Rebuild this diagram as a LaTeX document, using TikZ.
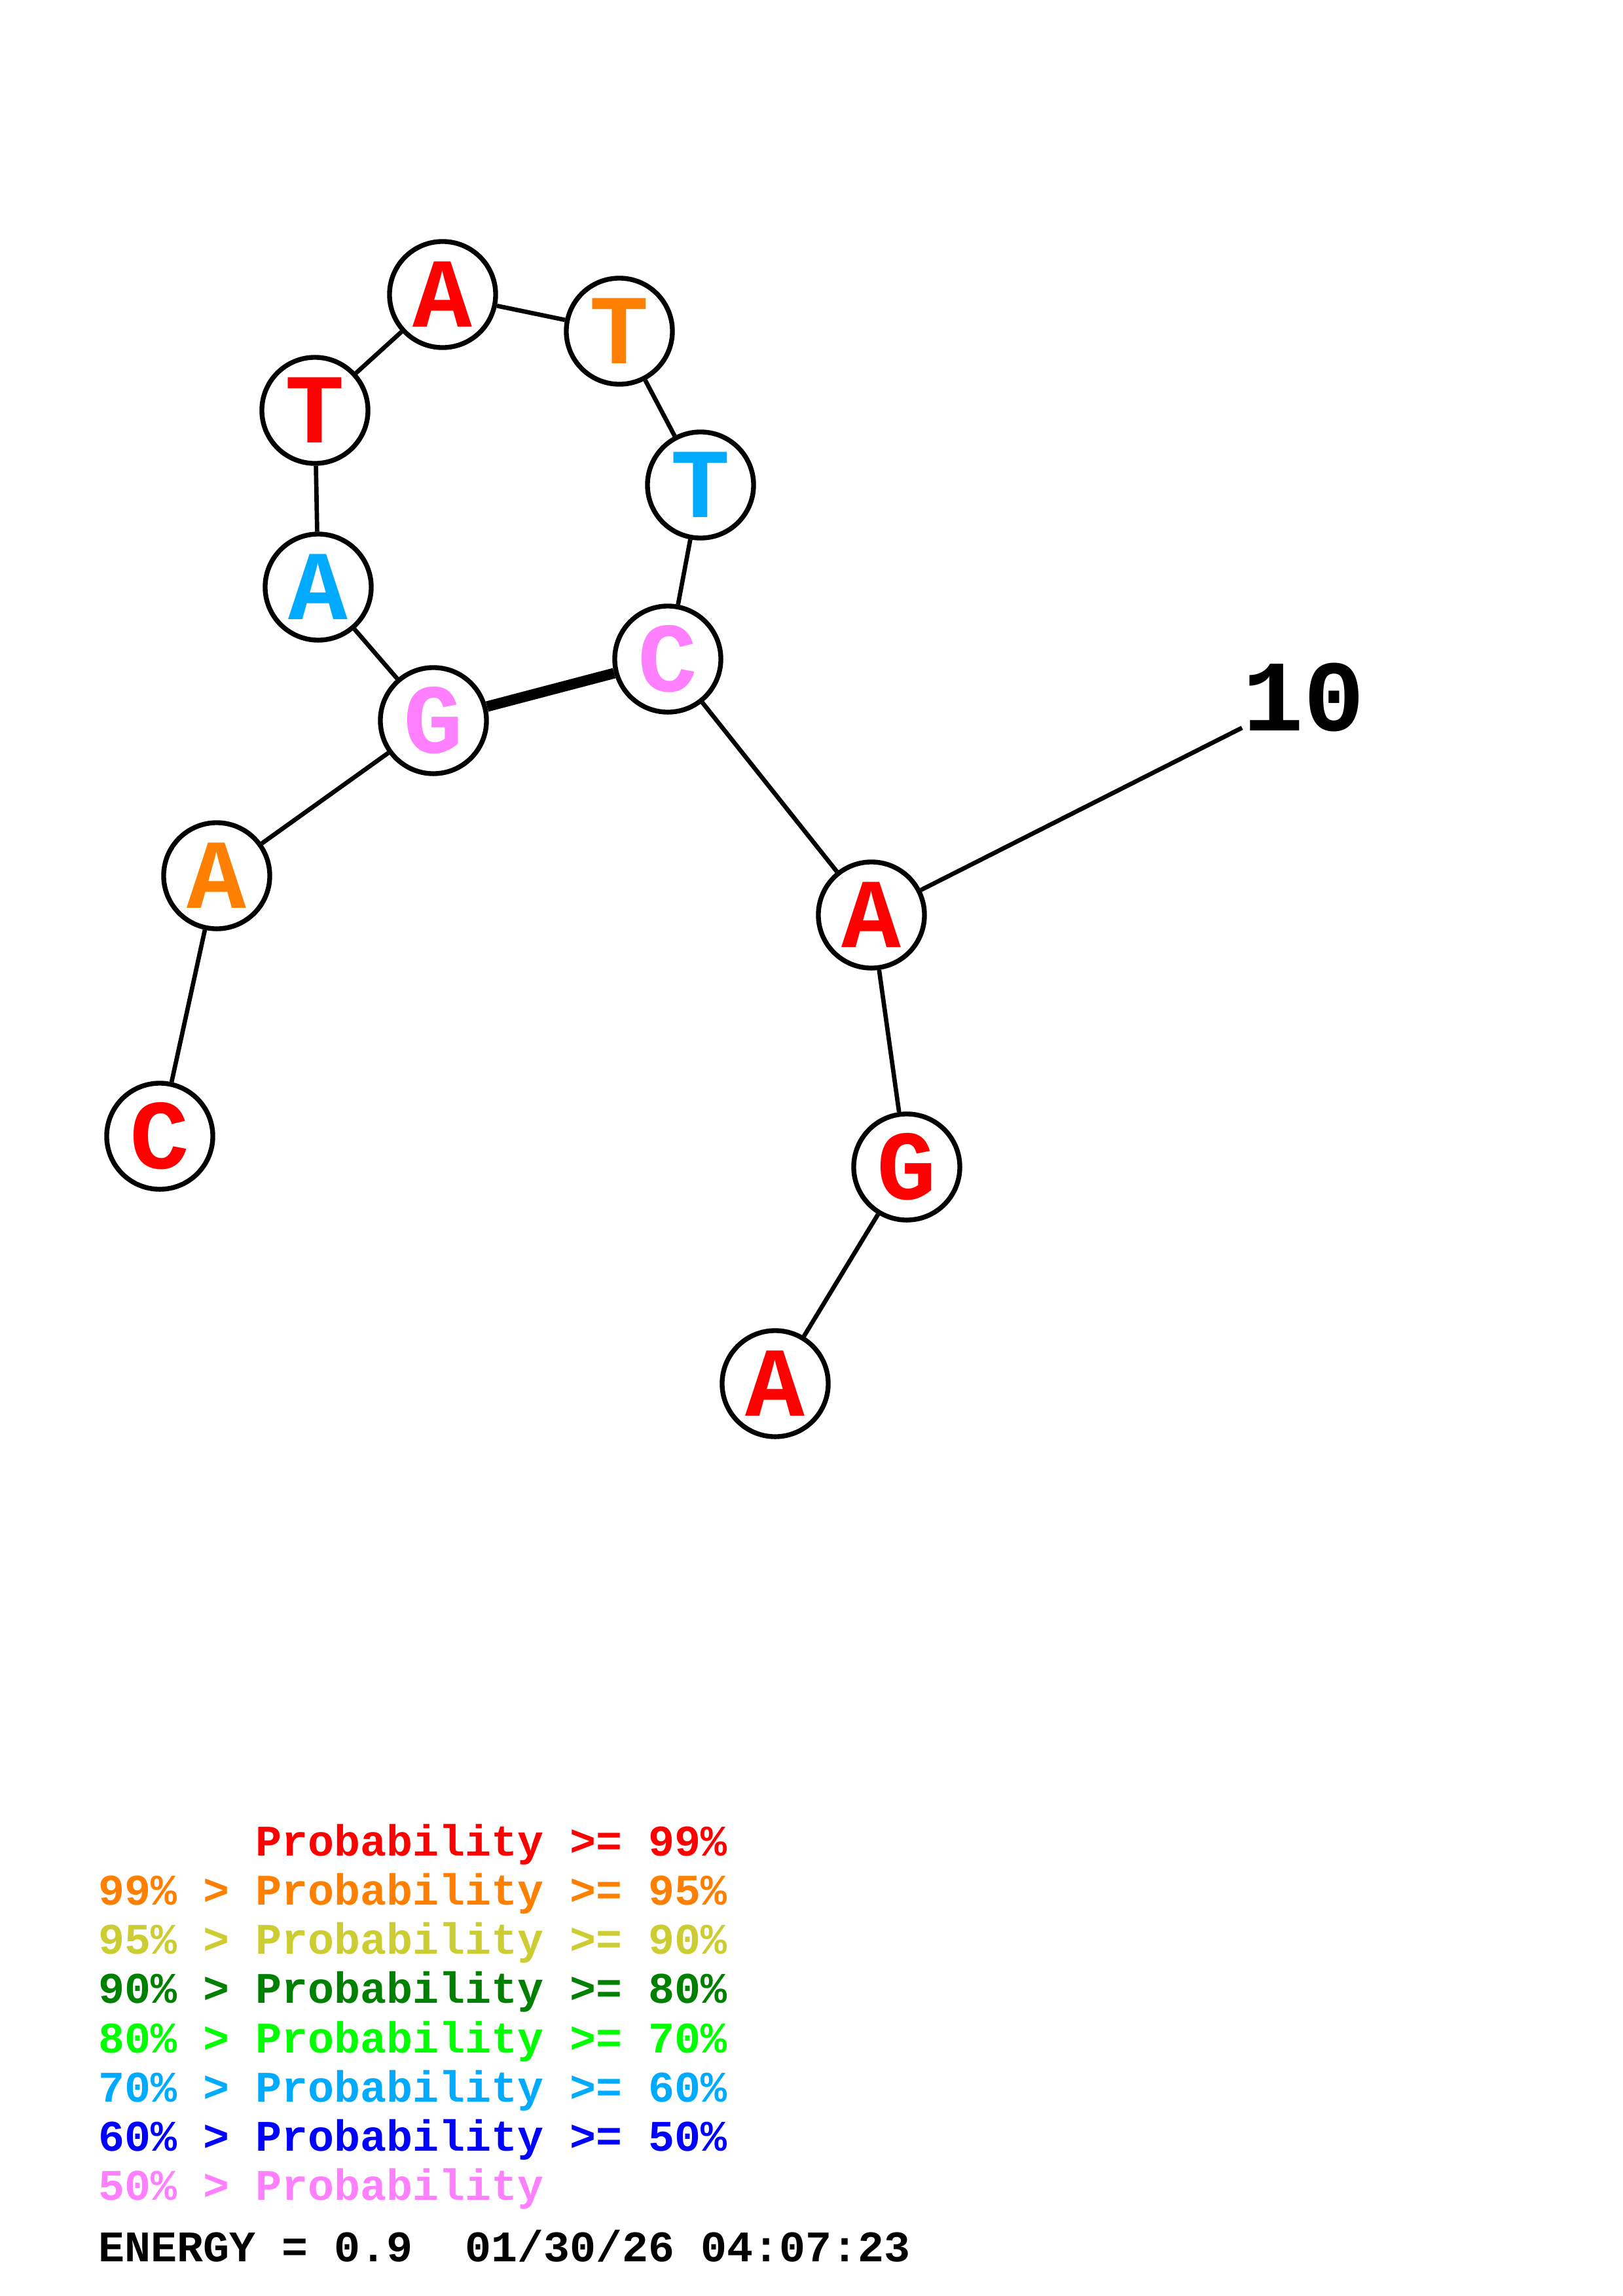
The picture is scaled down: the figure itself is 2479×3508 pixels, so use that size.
\documentclass[tikz,border=0pt]{standalone}
\usepackage{fontspec}
\setmonofont{Liberation Mono}
\definecolor{cred}{RGB}{255,0,0}
\definecolor{corange}{RGB}{255,128,0}
\definecolor{cyellow}{RGB}{204,204,51}
\definecolor{cdgreen}{RGB}{0,128,0}
\definecolor{cgreen}{RGB}{0,255,0}
\definecolor{clblue}{RGB}{0,170,255}
\definecolor{cblue}{RGB}{0,0,255}
\definecolor{cpink}{RGB}{255,128,255}
\newcommand\ntx[1]{\raisebox{-3.5pt}{#1}}
\begin{document}
\begin{tikzpicture}[x=0.01cm,y=-0.01cm,
  nt/.style={circle, draw=black, line width=2.1pt, fill=white, minimum size=1.62cm, inner sep=0pt,
    font=\ttfamily\bfseries\fontsize{43}{43}\selectfont},
  bb/.style={line width=1.9pt},
  bp/.style={line width=4.6pt},
  lbl/.style={anchor=base west, inner sep=0pt, font=\ttfamily\bfseries\fontsize{44}{44}\selectfont},
  leg/.style={anchor=base west, inner sep=0pt, font=\ttfamily\bfseries\fontsize{18.95}{18.95}\selectfont}]
\useasboundingbox[fill=white] (0,0) rectangle (2479,3508);
% nucleotides
\node[nt, text=cred]    (n1)  at (244,1736) {\ntx{C}};
\node[nt, text=corange] (n2)  at (331,1338) {\ntx{A}};
\node[nt, text=cpink]   (n3)  at (662,1101) {\ntx{G}};
\node[nt, text=clblue]  (n4)  at (486,897)  {\ntx{A}};
\node[nt, text=cred]    (n5)  at (481,627)  {\ntx{T}};
\node[nt, text=cred]    (n6)  at (676,450)  {\ntx{A}};
\node[nt, text=corange] (n7)  at (946,506)  {\ntx{T}};
\node[nt, text=clblue]  (n8)  at (1070,741) {\ntx{T}};
\node[nt, text=cpink]   (n9)  at (1020,1007){\ntx{C}};
\node[nt, text=cred]    (n10) at (1331,1398){\ntx{A}};
\node[nt, text=cred]    (n11) at (1385,1783){\ntx{G}};
\node[nt, text=cred]    (n12) at (1184,2114){\ntx{A}};
% backbone
\draw[bb] (n1) -- (n2);
\draw[bb] (n2) -- (n3);
\draw[bb] (n3) -- (n4);
\draw[bb] (n4) -- (n5);
\draw[bb] (n5) -- (n6);
\draw[bb] (n6) -- (n7);
\draw[bb] (n7) -- (n8);
\draw[bb] (n8) -- (n9);
\draw[bb] (n9) -- (n10);
\draw[bb] (n10) -- (n11);
\draw[bb] (n11) -- (n12);
% base pair
\draw[bp] (n3) -- (n9);
% position label
\coordinate (l10) at (1897,1112);
\draw[bb] (n10) -- (l10);
\node[lbl] (t10) at (1898,1116) {10};
% legend
\node[leg, text=cred]    (g1) at (150,2835) {\hphantom{99\% > }Probability >= 99\%};
\node[leg, text=corange] (g2) at (150,2910) {99\% > Probability >= 95\%};
\node[leg, text=cyellow] (g3) at (150,2985) {95\% > Probability >= 90\%};
\node[leg, text=cdgreen] (g4) at (150,3060) {90\% > Probability >= 80\%};
\node[leg, text=cgreen]  (g5) at (150,3136) {80\% > Probability >= 70\%};
\node[leg, text=clblue]  (g6) at (150,3211) {70\% > Probability >= 60\%};
\node[leg, text=cblue]   (g7) at (150,3286) {60\% > Probability >= 50\%};
\node[leg, text=cpink]   (g8) at (150,3361) {50\% > Probability};
\node[leg, text=black]   (en) at (150,3455) {ENERGY = 0.9\ \ 01/30/26 04:07:23};
\end{tikzpicture}
\end{document}
